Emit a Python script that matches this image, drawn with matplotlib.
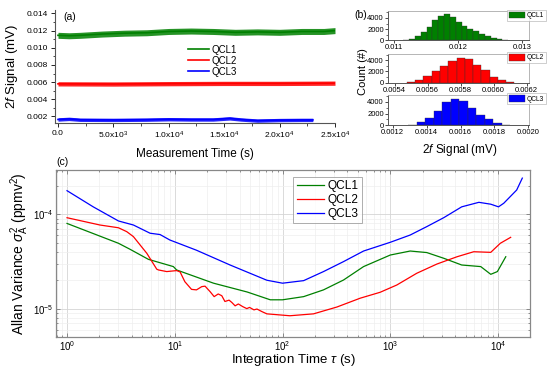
import numpy as np
import matplotlib
matplotlib.use("Agg")
import matplotlib.pyplot as plt
from matplotlib.ticker import AutoMinorLocator, NullFormatter, LogLocator

plt.rcParams["font.family"] = ["Liberation Sans", "DejaVu Sans"]
plt.rcParams["mathtext.fontset"] = "custom"
plt.rcParams["mathtext.rm"] = "Liberation Sans"
plt.rcParams["mathtext.it"] = "Liberation Sans:italic"
plt.rcParams["mathtext.bf"] = "Liberation Sans:bold"

GREEN = "#008000"
RED = "#ff0000"
BLUE = "#0000ff"

# ---- (a) time series: centre of the noisy band + its half spread (mV)
t_qcl1 = [0, 1000, 2000, 4000, 6000, 8000, 10000, 12000, 14000, 16000, 18000, 20000, 22000, 24000, 25000]
sig_qcl1 = [0.01145, 0.0114, 0.01145, 0.0116, 0.0117, 0.01175, 0.0119, 0.01195, 0.0119, 0.0118,
            0.01185, 0.0118, 0.0119, 0.0119, 0.0120]
t_qcl2 = [0, 5000, 10000, 15000, 20000, 25000]
sig_qcl2 = [0.00580, 0.00578, 0.00582, 0.00585, 0.00585, 0.00588]
t_qcl3 = [0, 1000, 2000, 5000, 8000, 10000, 12000, 14000, 15500, 16500, 18000, 20000, 22000, 23000]
sig_qcl3 = [0.00165, 0.00172, 0.00162, 0.0016, 0.00163, 0.00168, 0.00165, 0.00165, 0.00178,
            0.00165, 0.00152, 0.00158, 0.0016, 0.0016]
spread = {"QCL1": 0.00035, "QCL2": 0.00025, "QCL3": 0.0002}

# ---- (b) histograms: first bin edge, bin width, counts
h1_start, h1_width = 0.011145, 0.0000909
h1_counts = [60, 300, 790, 1500, 2400, 3600, 4400, 4650, 4180, 3270, 2480, 2060, 1640, 1150, 730, 360, 180, 60]
h2_start, h2_width = 0.005475, 0.00005
h2_counts = [100, 400, 1200, 2100, 2900, 3800, 4400, 4200, 3200, 2200, 1100, 500, 100]
h3_start, h3_width = 0.001292, 0.00005
h3_counts = [100, 500, 1300, 2500, 3900, 4500, 4100, 3000, 1800, 1000, 400, 100]

# ---- (c) Allan variance (ppmv^2) vs integration time (s)
tau_qcl1 = [1.0, 3.0, 3.84, 5.69, 9.7, 10.4, 22.9, 47, 77, 100, 157, 240, 368, 565, 1000, 1530,
            2180, 3130, 4600, 6910, 8560, 9860, 11800]
av_qcl1 = [8.0e-5, 4.93e-5, 4.26e-5, 3.33e-5, 2.79e-5, 2.57e-5, 1.86e-5, 1.5e-5, 1.24e-5, 1.24e-5,
           1.34e-5, 1.58e-5, 2.01e-5, 2.79e-5, 3.7e-5, 4.08e-5, 3.93e-5, 3.42e-5, 2.9e-5, 2.79e-5,
           2.31e-5, 2.47e-5, 3.55e-5]
tau_qcl2 = [1.0, 2.02, 3.0, 3.58, 4.13, 5.5, 6.8, 7.06, 8.42, 10.4, 11.2, 12.4, 14.3, 15.9, 17.8,
            19.1, 21.3, 23.2, 25.3, 27.3, 29.2, 31.9, 33.9, 36.3, 38.9, 42.7, 46.6, 49.4, 54.3,
            57.9, 64.3, 71.5, 117, 194, 320, 526, 805, 1150, 1760, 2710, 4170, 5950, 8560,
            10500, 13100]
av_qcl2 = [9.2e-5, 7.7e-5, 7.2e-5, 6.55e-5, 5.8e-5, 3.86e-5, 2.62e-5, 2.57e-5, 2.47e-5, 2.53e-5,
           2.45e-5, 1.93e-5, 1.6e-5, 1.58e-5, 1.71e-5, 1.73e-5, 1.51e-5, 1.34e-5, 1.43e-5,
           1.37e-5, 1.19e-5, 1.23e-5, 1.16e-5, 1.07e-5, 1.12e-5, 1.05e-5, 1.0e-5, 1.03e-5,
           9.7e-6, 9.9e-6, 9.3e-6, 8.8e-6, 8.4e-6, 8.8e-6, 1.04e-5, 1.29e-5, 1.49e-5, 1.78e-5,
           2.37e-5, 2.97e-5, 3.55e-5, 4.01e-5, 3.95e-5, 4.93e-5, 5.7e-5]
tau_qcl3 = [1.0, 1.75, 3.0, 4.13, 5.9, 7.3, 9.0, 15.9, 32.6, 71.5, 100, 157, 240, 368, 565, 1000,
            1530, 2180, 3130, 4600, 6640, 8560, 10100, 11300, 14900, 16800]
av_qcl3 = [1.78e-4, 1.2e-4, 8.5e-5, 7.7e-5, 6.3e-5, 6.1e-5, 5.34e-5, 4.16e-5, 2.9e-5, 2.0e-5,
           1.86e-5, 1.98e-5, 2.47e-5, 3.15e-5, 4.08e-5, 5.05e-5, 6.03e-5, 7.4e-5, 9.2e-5, 1.2e-4,
           1.34e-4, 1.28e-4, 1.2e-4, 1.31e-4, 1.81e-4, 2.42e-4]

fig = plt.figure(figsize=(5.5, 3.69), dpi=100)
W, H = 550.0, 369.0


def box(l, t, r, b):
    return [l / W, 1 - b / H, (r - l) / W, (b - t) / H]


# ================= (a)
ax = fig.add_axes(box(55, 10, 335, 123))
for t, s, c, name in [(t_qcl1, sig_qcl1, GREEN, "QCL1"),
                      (t_qcl2, sig_qcl2, RED, "QCL2"),
                      (t_qcl3, sig_qcl3, BLUE, "QCL3")]:
    s = np.array(s)
    ax.fill_between(t, s - spread[name], s + spread[name], color=c, lw=0, alpha=0.85)
    ax.plot(t, s, color=c, lw=1.2, label=name)
ax.set_xlim(-270, 25000)
ax.set_ylim(0.00124, 0.0144)
ax.set_xticks([0, 5000, 10000, 15000, 20000, 25000])
ax.set_xticklabels(["0.0", "5.0x10$^{3}$", "1.0x10$^{4}$", "1.5x10$^{4}$",
                    "2.0x10$^{4}$", "2.5x10$^{4}$"])
ax.set_yticks([0.002, 0.004, 0.006, 0.008, 0.010, 0.012, 0.014])
ax.set_yticklabels(["0.002", "0.004", "0.006", "0.008", "0.010", "0.012", "0.014"])
ax.xaxis.set_minor_locator(AutoMinorLocator(2))
ax.yaxis.set_minor_locator(AutoMinorLocator(2))
ax.tick_params(labelsize=6, length=3, width=0.6, direction="out", pad=2)
ax.tick_params(which="minor", length=1.8, width=0.5)
for sp in ["top", "right"]:
    ax.spines[sp].set_visible(False)
for sp in ["left", "bottom"]:
    ax.spines[sp].set_color("#555555")
    ax.spines[sp].set_linewidth(0.8)
ax.set_xlabel("Measurement Time (s)", fontsize=8.5, labelpad=5)
ax.set_ylabel("2$\\it{f}$ Signal (mV)", fontsize=9.5, labelpad=5)
ax.text(0.03, 0.985, "(a)", transform=ax.transAxes, fontsize=7.5, va="top")
ax.legend(loc="center left", bbox_to_anchor=(0.45, 0.55), frameon=False, fontsize=7,
          handlelength=2.2, handletextpad=0.2, labelspacing=0.1, borderpad=0.2)

# ================= (b)
hists = [(h1_start, h1_width, h1_counts, GREEN, "QCL1", (0.010906, 0.013104),
          [0.011, 0.012, 0.013], ["0.011", "0.012", "0.013"], (388, 11.3, 529, 40.3)),
         (h2_start, h2_width, h2_counts, RED, "QCL2", (0.00536, 0.006214),
          [0.0054, 0.0056, 0.0058, 0.0060, 0.0062],
          ["0.0054", "0.0056", "0.0058", "0.0060", "0.0062"], (388, 53.5, 529, 82.7)),
         (h3_start, h3_width, h3_counts, BLUE, "QCL3", (0.001172, 0.002004),
          [0.0012, 0.0014, 0.0016, 0.0018, 0.0020],
          ["0.0012", "0.0014", "0.0016", "0.0018", "0.0020"], (388, 94.7, 529, 125.3))]
hax = []
for start, width, counts, c, name, xl, xt, xtl, pos in hists:
    a = fig.add_axes(box(*pos))
    edges = start + width * np.arange(len(counts))
    a.bar(edges, counts, width=width, align="edge", color=c, edgecolor="#333333",
          linewidth=0.25, label=name)
    a.set_xlim(*xl)
    a.set_ylim(0, 5200)
    a.set_xticks(xt)
    a.set_xticklabels(xtl)
    a.set_yticks([0, 2000, 4000])
    a.yaxis.set_minor_locator(AutoMinorLocator(2))
    a.tick_params(labelsize=5.5, length=2, width=0.5, pad=1)
    a.tick_params(which="minor", length=1.2, width=0.4)
    for sp in ["top", "right"]:
        a.spines[sp].set_color("#aaaaaa")
        a.spines[sp].set_linewidth(0.6)
    for sp in ["left", "bottom"]:
        a.spines[sp].set_color("#555555")
        a.spines[sp].set_linewidth(0.7)
    leg = a.legend(loc="upper right", bbox_to_anchor=(1.12, 1.05), fontsize=4.8, frameon=True,
                   fancybox=False, handlelength=2.4, handleheight=1.2, handletextpad=0.3,
                   borderpad=0.25, borderaxespad=0)
    leg.get_frame().set_edgecolor("#aaaaaa")
    leg.get_frame().set_linewidth(0.5)
    hax.append(a)
hax[0].text(-0.24, 1.04, "(b)", transform=hax[0].transAxes, fontsize=7.5, va="top")
fig.text(363 / W, 1 - 72 / H, "Count (#)", rotation=90, fontsize=8, ha="center", va="center")
fig.text(460 / W, 1 - 150 / H, "2$\\it{f}$ Signal (mV)", fontsize=8.5, ha="center", va="center")

# ================= (c)
axc = fig.add_axes(box(56, 170, 530, 337))
axc.plot(tau_qcl1, av_qcl1, color=GREEN, lw=0.9, label="QCL1")
axc.plot(tau_qcl2, av_qcl2, color=RED, lw=0.9, label="QCL2")
axc.plot(tau_qcl3, av_qcl3, color=BLUE, lw=0.9, label="QCL3")
axc.set_xscale("log")
axc.set_yscale("log")
axc.set_xlim(0.79, 19800)
axc.set_ylim(5.0e-6, 2.95e-4)
axc.xaxis.set_major_locator(LogLocator(base=10, numticks=10))
axc.xaxis.set_minor_locator(LogLocator(base=10, subs=np.arange(2, 10), numticks=20))
axc.yaxis.set_minor_locator(LogLocator(base=10, subs=np.arange(2, 10), numticks=20))
axc.xaxis.set_minor_formatter(NullFormatter())
axc.yaxis.set_minor_formatter(NullFormatter())
axc.grid(True, which="major", color="#d4d4d4", lw=0.6)
axc.grid(True, which="minor", color="#eeeeee", lw=0.5)
axc.set_axisbelow(True)
axc.tick_params(which="both", direction="in", top=True, right=True, labelsize=7,
                width=0.5, color="#666666")
axc.tick_params(which="major", length=3, pad=1.5)
axc.tick_params(which="minor", length=1.5)
for sp in axc.spines.values():
    sp.set_color("#888888")
    sp.set_linewidth(0.9)
axc.set_xlabel("Integration Time $\\it{\\tau}$ (s)", fontsize=9.5)
axc.xaxis.set_label_coords(0.5, -0.088)
axc.set_ylabel("Allan Variance $\\sigma^{2}_{\\mathrm{A}}$ (ppmv$^{2}$)", fontsize=10, labelpad=2)
axc.text(0.0, 1.02, "(c)", transform=axc.transAxes, fontsize=7.5, va="bottom")
legc = axc.legend(loc="upper left", bbox_to_anchor=(0.5, 0.96), fontsize=8.6, frameon=True,
                  fancybox=False, handlelength=2.3, handletextpad=0.3, labelspacing=0.15,
                  borderpad=0.3, borderaxespad=0)
legc.get_frame().set_edgecolor("#999999")
legc.get_frame().set_linewidth(0.7)

fig.savefig("out.png", dpi=100)
